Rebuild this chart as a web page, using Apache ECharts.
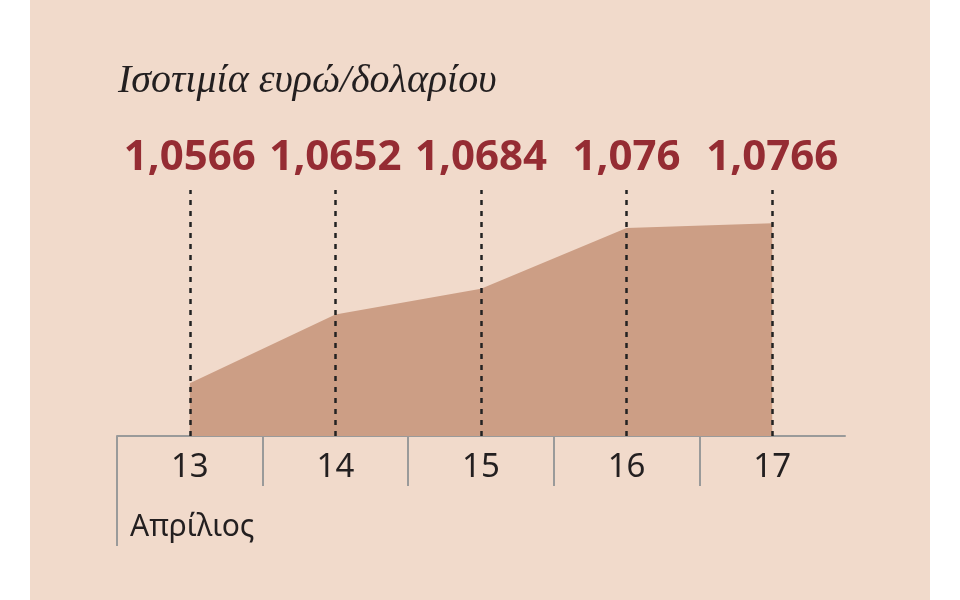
<!DOCTYPE html>
<html>
<head>
<meta charset="utf-8">
<script src="https://cdn.jsdelivr.net/npm/echarts@6/dist/echarts.min.js"></script>
<style>
html,body{margin:0;padding:0;background:#fff;}
#c{width:960px;height:600px;background:linear-gradient(to right,#fff 0,#fff 30px,#f1dacb 30px,#f1dacb 930px,#fff 930px);}
</style>
</head>
<body>
<div id="c"></div>
<script>
const titleText = 'Ισοτιμία ευρώ/δολαρίου';
const monthLabel = 'Απρίλιος';
const days = ['13', '14', '15', '16', '17'];
const rates = [1.0566, 1.0652, 1.0684, 1.076, 1.0766];
const yMin = 1.05;
const yMax = 1.08075;

const sans = "'Noto Sans', 'DejaVu Sans', sans-serif";
const rateLabels = rates.map(v => String(v).replace('.', ','));

const chart = echarts.init(document.getElementById('c'), null, {renderer: 'canvas'});
chart.setOption({
  animation: false,
  backgroundColor: 'transparent',
  title: [
    {text: titleText, left: 113, top: 56,
     textStyle: {fontFamily: "'Liberation Serif', 'DejaVu Serif', serif", fontStyle: 'italic', fontWeight: 'normal', fontSize: 40, color: '#231f20'}},
    {text: monthLabel, left: 125, top: 507,
     textStyle: {fontFamily: sans, fontWeight: 'normal', fontSize: 30, color: '#231f20'}}
  ],
  grid: [
    {left: 117, right: 115, top: 190, bottom: 164},
    {left: 117, right: 115, top: 436, height: 50}
  ],
  xAxis: [
    {type: 'category', gridIndex: 0, data: days, boundaryGap: true,
     axisLine: {show: true, lineStyle: {color: '#9a9a9a', width: 2}},
     axisTick: {show: false},
     axisLabel: {margin: 15, fontFamily: sans, fontSize: 33, color: '#231f20'}},
    {type: 'category', gridIndex: 1, data: days, boundaryGap: true,
     axisLine: {show: false}, axisTick: {show: false}, axisLabel: {show: false},
     splitLine: {show: true, interval: 0, showMinLine: true, showMaxLine: false,
                 lineStyle: {color: '#9a9a9a', width: 2}}}
  ],
  yAxis: [
    {type: 'value', gridIndex: 0, min: yMin, max: yMax, show: false, splitLine: {show: false}},
    {type: 'value', gridIndex: 1, show: false, splitLine: {show: false}}
  ],
  graphic: [
    {type: 'line', shape: {x1: 117, y1: 436, x2: 117, y2: 546},
     style: {stroke: '#9a9a9a', lineWidth: 2}, z: 10}
  ],
  series: [{
    type: 'line',
    xAxisIndex: 0, yAxisIndex: 0,
    data: rates,
    showSymbol: false,
    symbol: 'none',
    lineStyle: {width: 0},
    areaStyle: {color: '#cc9e85', opacity: 1, origin: 'start'},
    markLine: {
      silent: true,
      symbol: ['none', 'none'],
      lineStyle: {color: '#222222', width: 2.5, type: [5, 6]},
      label: {show: true, position: 'end', distance: 11, formatter: '{b}',
              fontFamily: sans, fontWeight: 'bold', fontSize: 42, color: '#952c33'},
      data: days.map((d, i) => [
        {name: rateLabels[i], coord: [i, yMin]},
        {coord: [i, yMax]}
      ])
    }
  }]
});
</script>
</body>
</html>
